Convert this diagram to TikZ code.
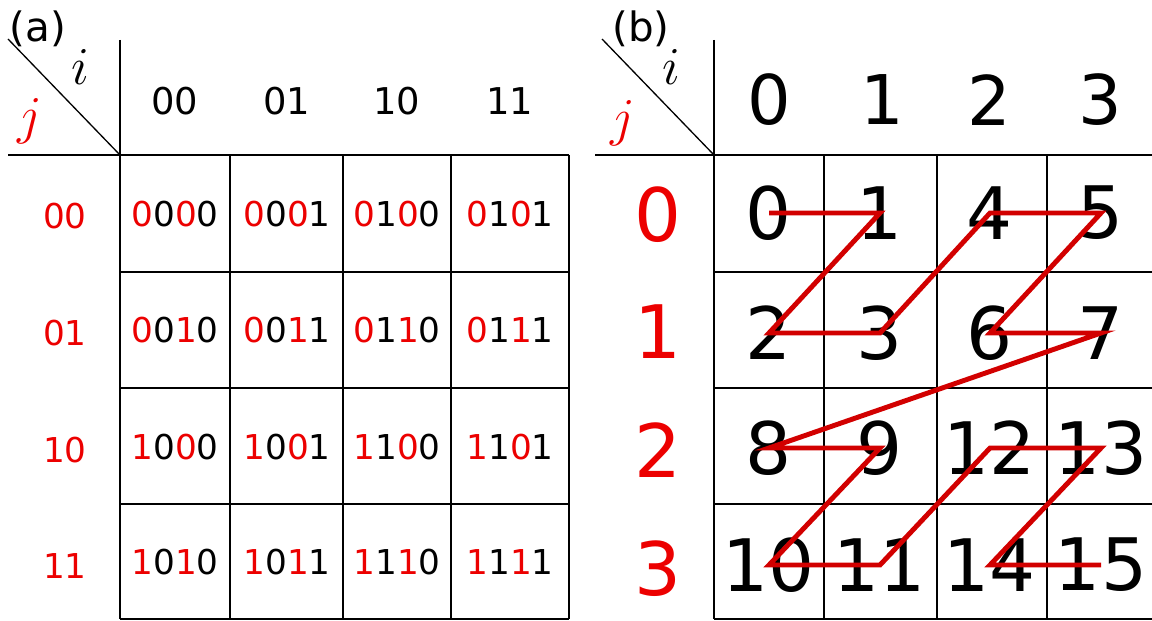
\documentclass[tikz,border=0pt]{standalone}
\usepackage{fontspec}
\setmainfont{DejaVu Sans}
\usepackage{tikz}
\usetikzlibrary{positioning}
\usepackage{xcolor}
\definecolor{labred}{RGB}{236,0,0}
\definecolor{curvered}{RGB}{210,0,0}
% j bits red, i bits black
\newcommand{\bits}[4]{\textcolor{labred}{#1}#2\textcolor{labred}{#3}#4}

\begin{document}
\begin{tikzpicture}[
    x=0.02cm, y=-0.02cm,
    every node/.style={inner sep=0pt},
    grid/.style={line width=0.75pt},
    tag/.style={font=\fontsize{23}{26}\selectfont},
    axis/.style={font=\fontsize{24.88}{28}\selectfont, scale=1.22, transform shape},
    hdr/.style={font=\fontsize{21}{24}\selectfont},
    rowlab/.style={text=labred, font=\fontsize{19.5}{22}\selectfont},
    cell/.style={font=\fontsize{19.5}{22}\selectfont},
    bighdr/.style={font=\fontsize{39}{42}\selectfont},
    bigrow/.style={text=labred, font=\fontsize{42}{45}\selectfont},
    bigcell/.style={font=\fontsize{41.2}{44}\selectfont},
    zcurve/.style={draw=curvered, line width=2.8pt}
  ]
  \useasboundingbox (0,0) rectangle (1152,621);

  % (a) binary indices
  \draw[grid] (120,40) -- (120,619);
  \draw[grid] (8,155) -- (569,155);
  \draw[grid] (8,39) -- (120,155);
  \draw[grid] (230,155) -- (230,619) (343,155) -- (343,619)
    (451,155) -- (451,619) (569,155) -- (569,619);
  \draw[grid] (120,272) -- (569,272) (120,388) -- (569,388)
    (120,504) -- (569,504) (120,619) -- (569,619);

  \node[tag] (taga) at (38,29) {(a)};
  \node[axis] (ia) at (80,67) {$i$};
  \node[axis, text=labred] (ja) at (30,121) {$j$};

  \node[hdr] (ahd0) at (175,101) {00};
  \node[hdr] (ahd1) at (287,101) {01};
  \node[hdr] (ahd2) at (397,101) {10};
  \node[hdr] (ahd3) at (510,101) {11};

  \node[rowlab] (arow0) at (65,216) {00};
  \node[rowlab] (arow1) at (65,333) {01};
  \node[rowlab] (arow2) at (65,450) {10};
  \node[rowlab] (arow3) at (65,566) {11};

  \node[cell] (bin00) at (175,214) {\bits0000};
  \node[cell] (bin01) at (287,214) {\bits0001};
  \node[cell] (bin02) at (397,214) {\bits0100};
  \node[cell] (bin03) at (510,214) {\bits0101};
  \node[cell] (bin10) at (175,330) {\bits0010};
  \node[cell] (bin11) at (287,330) {\bits0011};
  \node[cell] (bin12) at (397,330) {\bits0110};
  \node[cell] (bin13) at (510,330) {\bits0111};
  \node[cell] (bin20) at (175,447) {\bits1000};
  \node[cell] (bin21) at (287,447) {\bits1001};
  \node[cell] (bin22) at (397,447) {\bits1100};
  \node[cell] (bin23) at (510,447) {\bits1101};
  \node[cell] (bin30) at (175,562) {\bits1010};
  \node[cell] (bin31) at (287,562) {\bits1011};
  \node[cell] (bin32) at (397,562) {\bits1110};
  \node[cell] (bin33) at (510,562) {\bits1111};

  % (b) Z-order
  \draw[grid] (714,40) -- (714,619);
  \draw[grid] (595,155) -- (1152,155);
  \draw[grid] (602,39) -- (714,155);
  \draw[grid] (824,155) -- (824,619) (937,155) -- (937,619)
    (1047,155) -- (1047,619);
  \draw[grid] (714,272) -- (1152,272) (714,388) -- (1152,388)
    (714,504) -- (1152,504) (714,619) -- (1152,619);

  \node[tag] (tagb) at (641,29) {(b)};
  \node[axis] (ib) at (671,67) {$i$};
  \node[axis, text=labred] (jb) at (623,123) {$j$};

  \node[bighdr] (bhd0) at (769,100) {0};
  \node[bighdr] (bhd1) at (882,100) {1};
  \node[bighdr] (bhd2) at (989,100) {2};
  \node[bighdr] (bhd3) at (1100,100) {3};

  \node[bigrow] (brow0) at (658,215) {0};
  \node[bigrow] (brow1) at (658,332) {1};
  \node[bigrow] (brow2) at (658,450) {2};
  \node[bigrow] (brow3) at (658,569) {3};

  \node[bigcell] (z0) at (769,213) {0};
  \node[bigcell] (z1) at (880,213) {1};
  \node[bigcell] (z4) at (990,213) {4};
  \node[bigcell] (z5) at (1101,213) {5};
  \node[bigcell] (z2) at (769,333) {2};
  \node[bigcell] (z3) at (880,333) {3};
  \node[bigcell] (z6) at (990,333) {6};
  \node[bigcell] (z7) at (1101,333) {7};
  \node[bigcell] (z8) at (769,448) {8};
  \node[bigcell] (z9) at (880,448) {9};
  \node[bigcell] (z12) at (990,448) {12};
  \node[bigcell] (z13) at (1101,448) {13};
  \node[bigcell] (z10) at (769,565) {10};
  \node[bigcell] (z11) at (880,565) {11};
  \node[bigcell] (z14) at (990,565) {14};
  \node[bigcell] (z15) at (1101,565) {15};

  \draw[zcurve] (z0.center) -- (z1.center) -- (z2.center) -- (z3.center)
    -- (z4.center) -- (z5.center) -- (z6.center) -- (z7.center)
    -- (z8.center) -- (z9.center) -- (z10.center) -- (z11.center)
    -- (z12.center) -- (z13.center) -- (z14.center) -- (z15.center);

\end{tikzpicture}
\end{document}
